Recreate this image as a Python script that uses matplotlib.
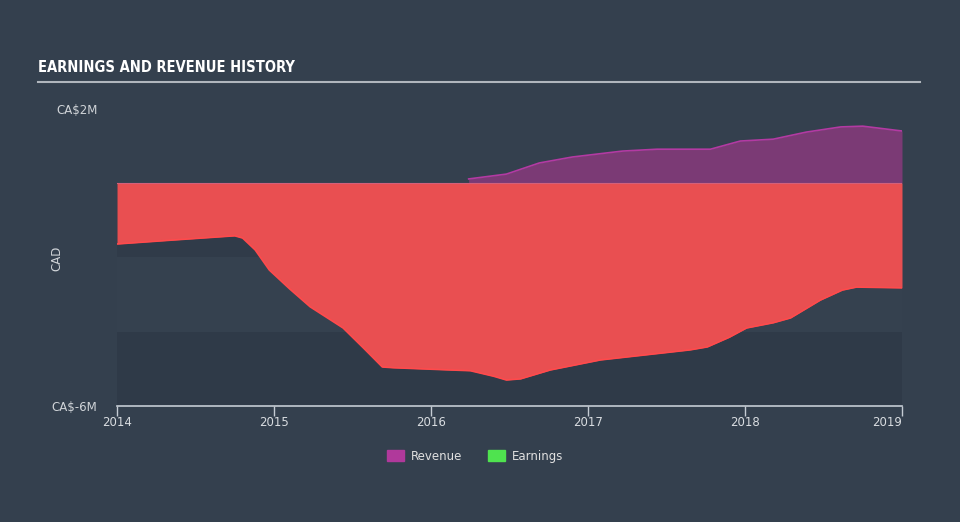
import matplotlib
matplotlib.use("Agg")
import matplotlib.pyplot as plt
from matplotlib.patches import Patch

plt.rcParams["font.family"] = ["DejaVu Sans"]

# earnings (CA$ millions)
earn_years = [2014.00, 2014.37, 2014.75, 2014.80, 2014.88, 2014.97, 2015.10, 2015.23,
              2015.44, 2015.57, 2015.69, 2015.76, 2016.12, 2016.25, 2016.40, 2016.48,
              2016.57, 2016.76, 2017.08, 2017.65, 2017.76, 2017.90, 2018.01, 2018.18,
              2018.29, 2018.48, 2018.62, 2018.71, 2019.00]
earnings = [-1.64, -1.53, -1.42, -1.48, -1.80, -2.34, -2.85, -3.33,
            -3.90, -4.44, -4.95, -4.97, -5.03, -5.05, -5.20, -5.30,
            -5.27, -5.03, -4.76, -4.49, -4.41, -4.15, -3.90, -3.76,
            -3.63, -3.15, -2.88, -2.80, -2.82]

# revenue (CA$ millions)
rev_years = [2016.24, 2016.48, 2016.69, 2016.90, 2017.22, 2017.44, 2017.78, 2017.97,
             2018.18, 2018.39, 2018.61, 2018.75, 2019.00]
revenue = [0.11, 0.24, 0.54, 0.70, 0.86, 0.91, 0.91, 1.13,
           1.18, 1.37, 1.51, 1.53, 1.40]

year_ticks = [2014, 2015, 2016, 2017, 2018, 2019]

bg = "#34404e"
fig = plt.figure(figsize=(9.6, 5.22), dpi=100, facecolor=bg)
ax = fig.add_axes([117 / 960, 1 - 406 / 522, 785 / 960, 297.3 / 522])
ax.set_facecolor(bg)

# subtle horizontal bands
ax.axhspan(-2, 0, color="#303b49", lw=0, zorder=0)
ax.axhspan(-4, -2, color="#35414f", lw=0, zorder=0)
ax.axhspan(-6, -4, color="#2f3a48", lw=0, zorder=0)

ax.fill_between(rev_years, revenue, 0, color="#7b3a75", lw=0, zorder=2)
ax.plot(rev_years, revenue, color="#b33aa3", lw=1.2, zorder=3)

ax.fill_between(earn_years, earnings, 0, color="#e94f51", lw=0, zorder=2)
ax.plot(earn_years, earnings, color="#ff4a4c", lw=1.2, zorder=3)
ax.axhline(0, color="#d4607a", lw=0.8, zorder=3)

ax.set_xlim(2014, 2019)
ax.set_ylim(-6, 2)

for s in ["top", "right", "left"]:
    ax.spines[s].set_visible(False)
ax.spines["bottom"].set_color("#c5ccd4")
ax.spines["bottom"].set_linewidth(1.2)

ax.set_xticks(year_ticks)
ax.set_xticklabels([str(y) for y in year_ticks])
ax.tick_params(axis="x", colors="#c5ccd4", labelcolor="#d8dce0", labelsize=8.5,
               length=7, width=1, pad=0)
ax.get_xticklabels()[-1].set_ha("right")
ax.set_yticks([-6, 2])
ax.set_yticklabels(["CA\\$-6M", "CA\\$2M"])
ax.tick_params(axis="y", length=0, labelcolor="#d0d4d8", labelsize=8.5, pad=14)
ax.text(57 / 960, 1 - 258 / 522, "CAD", transform=fig.transFigure, rotation=90,
        color="#d0d4d8", fontsize=8.5, ha="center", va="center")

fig.text(38 / 960, 1 - 67 / 522, "EARNINGS AND REVENUE HISTORY", color="white",
         fontsize=10.5, fontweight="bold", fontstretch="condensed",
         va="center", ha="left")
fig.add_artist(plt.Line2D([38 / 960, 920 / 960], [1 - 82 / 522, 1 - 82 / 522],
                          color="#b0b6bd", lw=1.5))

handles = [Patch(color="#b0399b", label="Revenue"),
           Patch(color="#4fe34f", label="Earnings")]
fig.legend(handles=handles, loc="center", bbox_to_anchor=(0.495, 1 - 456 / 522),
           ncol=2, frameon=False, fontsize=8.5, labelcolor="#e0e0e0",
           handlelength=1.4, handleheight=1.0, columnspacing=2.2, handletextpad=0.6)

fig.savefig("out.png", dpi=100, facecolor=bg)
